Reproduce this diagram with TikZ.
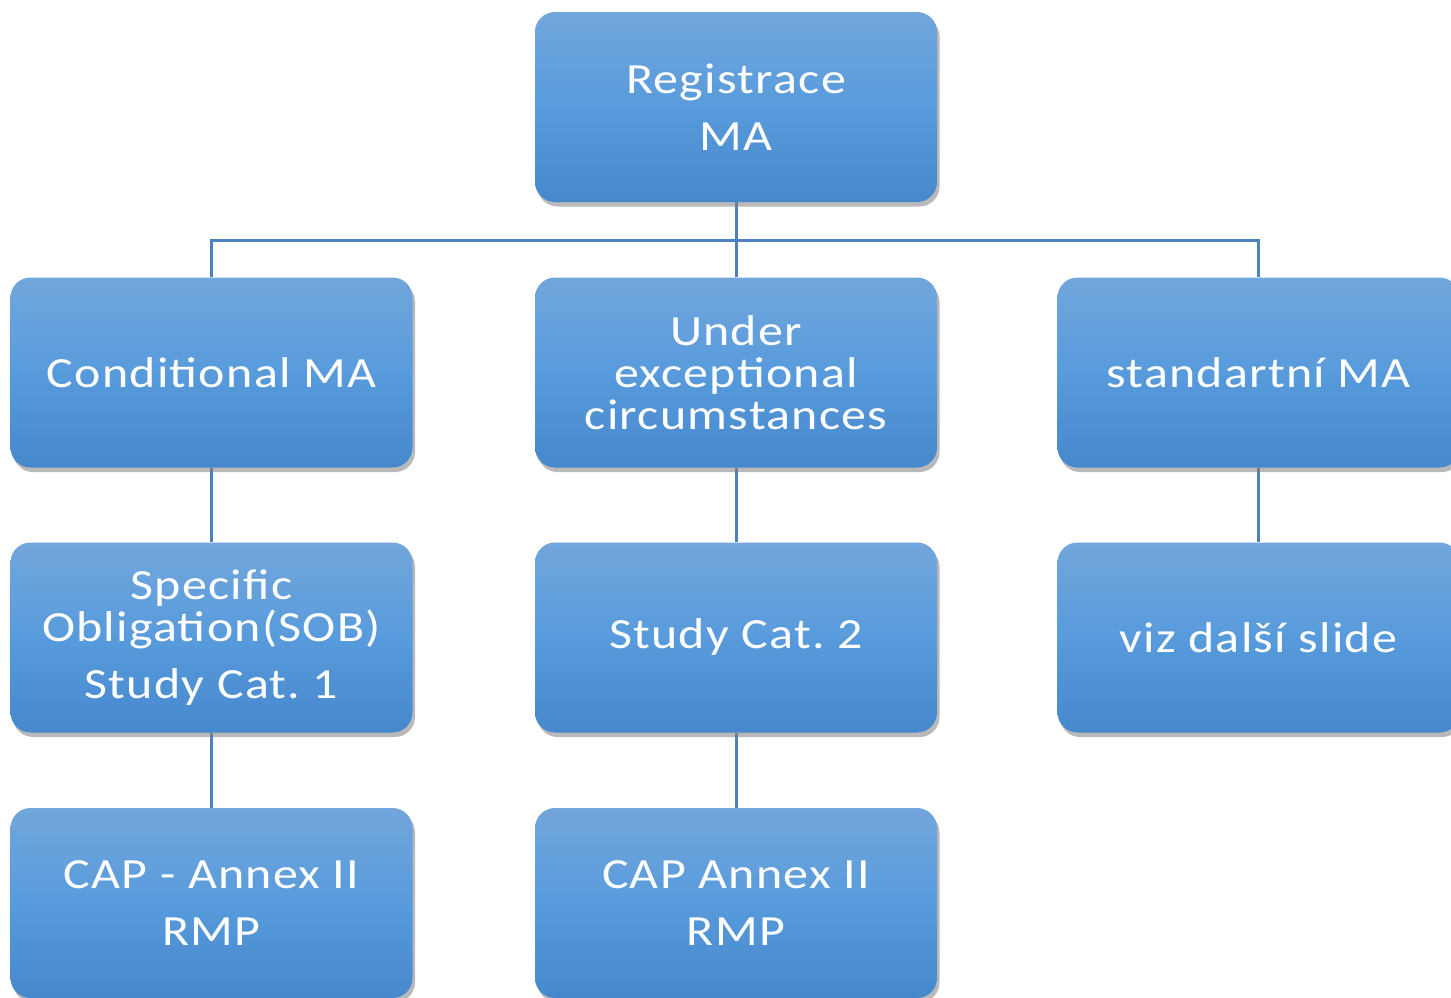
\documentclass[tikz,border=0pt]{standalone}
\usepackage{fontspec}
\setmainfont{Carlito}[FakeStretch=1.16,LetterSpace=3]
\usepackage{tikz}
\usetikzlibrary{shadows,backgrounds}

\definecolor{boxtop}{RGB}{114,166,220}
\definecolor{boxmid}{RGB}{88,155,220}
\definecolor{boxbot}{RGB}{70,136,204}
\definecolor{linkblue}{RGB}{79,129,189}

\tikzset{
	box/.style={rounded corners=0.4cm, minimum width=8.04cm, minimum height=3.8cm,
		top color=boxtop, bottom color=boxbot, middle color=boxmid,
		text=white, align=center,
		font=\fontsize{24.5}{23.9}\selectfont,
		drop shadow={opacity=0.55, shadow xshift=0.05cm, shadow yshift=-0.09cm}},
	link/.style={draw=linkblue, line width=1.7pt}
}

\begin{document}
\begin{tikzpicture}
		\useasboundingbox (0,0) rectangle (29.02,-19.94);
		
		\node[box] (reg) at (14.72,-2.14) {Registrace\\[8.5pt] MA};
		
		\node[box] (cond) at (4.23,-7.45) {Conditional MA};
		\node[box] (exc) at (14.72,-7.45) {Under\\ exceptional\\ circumstances};
		\node[box] (std) at (25.17,-7.45) {standartní MA};
		
		\node[box] (sob) at (4.23,-12.75) {Specific\\ Obligation(SOB)\\[8.5pt] Study Cat.\ 1};
		\node[box] (cat2) at (14.72,-12.75) {Study Cat.\ 2};
		\node[box] (viz) at (25.17,-12.75) {viz další slide};
		
		\node[box] (cap1) at (4.23,-18.06) {CAP - Annex II\\[8.5pt] RMP};
		\node[box] (cap2) at (14.72,-18.06) {CAP Annex II\\[8.5pt] RMP};
		
		\begin{scope}[on background layer]
		\coordinate (bus) at (14.72,-4.8);
		\draw[link] (reg.south) -- (bus);
		\draw[link] (cond.north) |- (bus) -| (std.north);
		\draw[link] (bus) -- (exc.north);
		
		\draw[link] (cond) -- (sob);
		\draw[link] (sob) -- (cap1);
		\draw[link] (exc) -- (cat2);
		\draw[link] (cat2) -- (cap2);
		\draw[link] (std) -- (viz);
		\end{scope}
	\end{tikzpicture}
\end{document}
